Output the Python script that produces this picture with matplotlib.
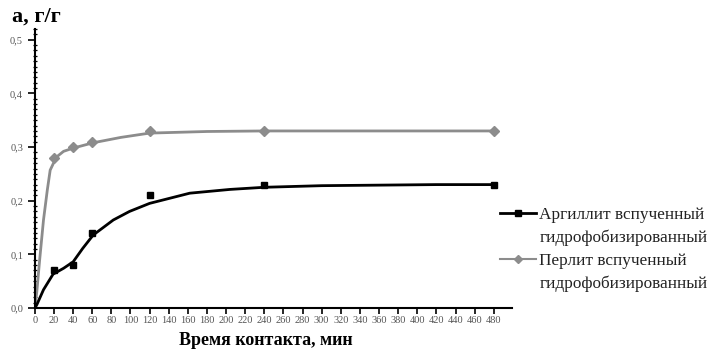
import matplotlib
matplotlib.use("Agg")
import matplotlib.pyplot as plt
from matplotlib.lines import Line2D
from matplotlib.ticker import MultipleLocator, FormatStrFormatter

plt.rcParams['font.family'] = ['Liberation Serif', 'DejaVu Serif']

# измеренные точки
t_points = [20, 40, 60, 120, 240, 480]
argillit = [0.07, 0.08, 0.14, 0.21, 0.23, 0.23]
perlit = [0.28, 0.30, 0.31, 0.33, 0.33, 0.33]

# сглаженные кривые
t_curve_a = [0, 2, 9, 19, 30, 40, 50, 61, 82, 99, 120, 162, 204, 240, 300, 360, 420, 480]
curve_a = [0.0, 0.006, 0.034, 0.063, 0.074, 0.086, 0.111, 0.136, 0.164, 0.180, 0.195,
           0.214, 0.221, 0.225, 0.228, 0.229, 0.23, 0.23]
t_curve_p = [0, 2, 5, 9, 13, 16, 20, 23, 30, 40, 61, 90, 120, 180, 240, 360, 480]
curve_p = [0.0, 0.03, 0.09, 0.164, 0.22, 0.257, 0.272, 0.282, 0.292, 0.298, 0.308,
           0.318, 0.326, 0.329, 0.33, 0.33, 0.33]

x_ticks = list(range(0, 481, 20))

fig = plt.figure(figsize=(7.12, 3.54), dpi=100)
ax = fig.add_axes([0.049, 0.13, 0.67, 0.788])

grey = '#8c8c8c'
ax.plot(t_curve_p, curve_p, color=grey, lw=2)
ax.plot(t_points, perlit, ls='none', marker='D', ms=5, color=grey)
ax.plot(t_curve_a, curve_a, color='black', lw=2)
ax.plot(t_points, argillit, ls='none', marker='s', ms=5, color='black')

ax.set_xlim(0, 499)
ax.set_ylim(0, 0.52)
ax.set_xticks(x_ticks)
ax.yaxis.set_major_locator(MultipleLocator(0.1))
ax.yaxis.set_minor_locator(MultipleLocator(0.01))
ax.yaxis.set_major_formatter(FormatStrFormatter('%.1f'))
ax.set_yticklabels([f'{v:.1f}'.replace('.', ',') for v in ax.get_yticks()])
ax.tick_params(axis='both', labelsize=7.5, labelcolor='#555555', width=1.2)
ax.tick_params(axis='y', which='major', length=5, direction='out')
ax.tick_params(axis='y', which='minor', length=3, direction='inout', width=0.9)
ax.tick_params(axis='x', length=4, direction='out', pad=2)
for s in ['top', 'right']:
    ax.spines[s].set_visible(False)
for s in ['left', 'bottom']:
    ax.spines[s].set_linewidth(1.5)

ax.set_xlabel('Время контакта, мин', fontsize=13, fontweight='bold')
ax.xaxis.set_label_coords(0.485, -0.085)
fig.text(0.017, 0.952, 'а, г/г', fontsize=16, fontweight='bold', ha='left', va='center')

# легенда: маркер стоит у первой строки подписи
h1 = Line2D([], [], color='black', lw=2, marker='s', ms=4)
h2 = Line2D([], [], color=grey, lw=1.5, marker='D', ms=4)
blank = Line2D([], [], color='none')
fig.legend([h1, blank, h2, blank],
           ['Аргиллит вспученный', 'гидрофобизированный',
            'Перлит вспученный', 'гидрофобизированный'],
           loc='upper left', bbox_to_anchor=(0.68, 0.46), frameon=False,
           fontsize=12.4, handlelength=2.1, handletextpad=0.2, labelspacing=0.4,
           labelcolor='#222222')

fig.savefig('out.png', dpi=100)
